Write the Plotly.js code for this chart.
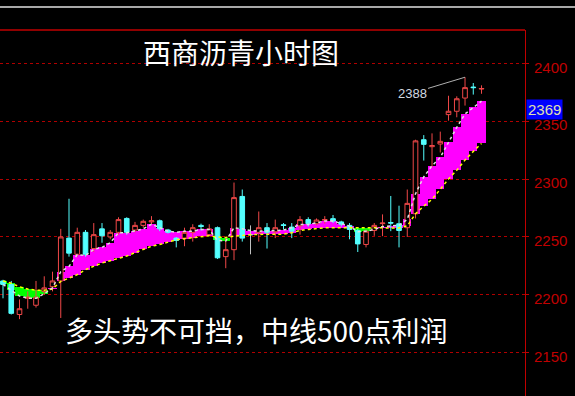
<!DOCTYPE html>
<html>
<head>
<meta charset="utf-8">
<script src="https://cdn.plot.ly/plotly-3.0.1.min.js"></script>
<style>html,body{margin:0;padding:0;background:#000;}#chart{width:575px;height:396px;}</style>
</head>
<body>
<div id="chart"></div>
<script>
// Hourly candles (index 0..58)
const openP  = [2212,2209,2183,2197,2191,2203,2207,2212,2249,2235,2254,2240,2257,2250,2254,2266,2256,2260,2263,2264,2256,2249,2249,2254,2260,2252,2258,2233,2239,2285,2252,2254,2258,2254.5,2260.5,2258.5,2259.6,2265,2261.4,2264.5,2265.8,2263,2260,2255.6,2243.5,2255.6,2261.5,2262.5,2261.4,2258,2270,2334,2328,2330.3,2355.7,2358.6,2370,2379.5,2377.8];
const highP  = [2213,2212,2196,2203,2212,2216,2220,2257,2283,2258,2256,2262,2262,2256,2267,2267,2263,2265,2268,2265,2257,2250,2258,2261,2261.5,2261,2259,2249,2297,2291,2260,2272,2262,2265,2262,2262,2268,2267,2266,2268,2269,2264,2262,2257,2256.5,2262,2269.5,2285.4,2277,2291,2334,2338,2339.5,2341,2372,2371.5,2388,2383,2381];
const lowP   = [2197,2183,2179,2188,2189,2200,2203,2180,2233,2233,2233,2237,2245,2248,2252,2252,2254,2258,2261,2255,2253,2241,2242,2246,2255.5,2251,2231,2223,2230,2246,2235,2246,2240,2249,2256.5,2249,2252,2259,2260,2261.4,2262,2259,2248,2237,2241,2251,2250.7,2255,2241,2250,2266,2316,2310,2323,2350.5,2353.4,2363.5,2373,2373.7];
const closeP = [2209,2184,2188,2198,2198,2206,2212,2250,2236,2254,2235,2252,2251,2254,2265,2254,2260,2263.5,2264,2257,2254,2247,2254,2258,2259,2257,2232,2239,2284,2249,2252,2258,2254,2258,2260,2255,2265,2261.4,2264.6,2265,2263.7,2261,2256.5,2244,2255,2260,2262,2262,2255.6,2279,2333,2330,2329,2332.6,2358.6,2369.4,2379,2379,2378.2];
// Fast (white) and slow (yellow) averages
const fastMA = [2209,2204,2199,2197,2197,2201,2206,2220,2224.6,2234.8,2234,2239.2,2241,2245,2253.6,2253.6,2255.5,2257,2261,2258,2255,2254,2255,2255,2256.5,2256.5,2247,2246.5,2258,2257,2255.5,2255,2255,2255.5,2256,2258,2260.8,2260.8,2262.2,2263.7,2263.7,2261.4,2259.4,2254.5,2255,2256.5,2259,2259.5,2260,2265.2,2287.4,2301.9,2311.5,2318.7,2331.7,2344.7,2356.3,2362,2367.3];
const slowMA = [2212,2210,2207,2205,2204,2204,2205,2211.6,2214.5,2217.4,2221.8,2224.7,2227.5,2229.5,2231.5,2233.5,2236.5,2239.5,2242,2243.5,2245.5,2247.5,2248.5,2249.2,2250.5,2251,2250,2249.5,2250.7,2251.5,2252,2252.2,2252.2,2252.2,2252.4,2253.6,2255.6,2256.5,2257.4,2257.9,2258,2258,2257.6,2257.5,2257.4,2257.4,2257.5,2257.6,2257.8,2259.6,2270,2276.7,2282.5,2291.2,2300,2307.7,2316.4,2323.9,2330.8];
const dojiIdx = [30];
const yTicks = [2150,2200,2250,2300,2350,2400];
const highLabel = 2388, highLabelIdx = 56;
const lastLabel = 2369;
const titleText = "西商沥青小时图";
const noteText = "多头势不可挡，中线500点利润";

const idx = openP.map((_, i) => i);
const normIdx = idx.filter(i => !dojiIdx.includes(i));
const pick = (arr, list) => list.map(i => arr[i]);

const bandBase = idx.map(i => Math.min(fastMA[i], slowMA[i]));
const bandH = idx.map(i => Math.abs(fastMA[i] - slowMA[i]));
const bandCol = idx.map(i => fastMA[i] >= slowMA[i] ? "#ff00ff" : "#00ff00");

const traces = [
  {type: "bar", x: idx, y: bandH, base: bandBase, width: 1,
   marker: {color: bandCol, line: {width: 0}}, hoverinfo: "skip"},
  {type: "scatter", mode: "lines", x: idx, y: slowMA,
   line: {color: "#ffff00", width: 1.5, dash: "dot"}, hoverinfo: "skip"},
  {type: "scatter", mode: "lines", x: idx, y: fastMA,
   line: {color: "#e0e0e0", width: 1.5, dash: "dot"}, hoverinfo: "skip"},
  {type: "candlestick", x: normIdx,
   open: pick(openP, normIdx), high: pick(highP, normIdx), low: pick(lowP, normIdx), close: pick(closeP, normIdx),
   whiskerwidth: 0,
   increasing: {line: {color: "#f04848", width: 1}, fillcolor: "#000000"},
   decreasing: {line: {color: "#54ffff", width: 1}, fillcolor: "#54ffff"}},
  {type: "candlestick", x: dojiIdx,
   open: pick(openP, dojiIdx), high: pick(highP, dojiIdx), low: pick(lowP, dojiIdx), close: pick(closeP, dojiIdx),
   whiskerwidth: 0,
   increasing: {line: {color: "#c0c0c0", width: 1}, fillcolor: "#c0c0c0"},
   decreasing: {line: {color: "#c0c0c0", width: 1}, fillcolor: "#c0c0c0"}}
];

const layout = {
  width: 575, height: 396,
  paper_bgcolor: "#000000", plot_bgcolor: "#000000",
  margin: {l: 0, r: 50, t: 30, b: 0},
  showlegend: false,
  bargap: 0, boxgap: 0.2,
  xaxis: {range: [-0.364, 63.27], visible: false, rangeslider: {visible: false}, fixedrange: true},
  yaxis: {side: "right", range: [2112.6, 2428.8], tickvals: yTicks,
          showgrid: true, gridcolor: "#b00000", griddash: "dot", gridwidth: 1,
          zeroline: false, showline: true, linecolor: "#c00000", linewidth: 1,
          ticks: "outside", ticklen: 3, tickcolor: "#c00000",
          tickfont: {family: "Liberation Sans, Arial", size: 15, color: "#c00000"},
          ticklabelshift: 4, ticklabelstandoff: 2},
  shapes: [
    {type: "line", xref: "paper", yref: "paper", x0: 0, x1: 1, y0: 1, y1: 1, line: {color: "#c00000", width: 1.5}},
    {type: "line", xref: "paper", yref: "paper", x0: 0, x1: 1.0952, y0: 1.0628, y1: 1.0628, line: {color: "#a8a8a8", width: 2}}
  ],
  annotations: [
    {xref: "paper", yref: "paper", x: 0.459, y: 0.94, xanchor: "center", yanchor: "middle", text: titleText, showarrow: false,
     font: {family: "Noto Sans CJK SC", size: 28, color: "#ffffff"}},
    {xref: "paper", yref: "paper", x: 0.488, y: 0.18, xanchor: "center", yanchor: "middle", text: noteText, showarrow: false,
     font: {family: "Noto Sans CJK SC", size: 28, color: "#ffffff"}},
    {xref: "x", yref: "y", x: highLabelIdx, y: highLabel, text: String(highLabel),
     showarrow: true, arrowhead: 0, arrowwidth: 1, arrowcolor: "#b0b0b0", ax: -53, ay: 16, standoff: 0,
     font: {family: "Liberation Sans, Arial", size: 13, color: "#d0d8e0"}},
    {xref: "paper", yref: "y", x: 1.002, y: lastLabel, xanchor: "left", yanchor: "top",
     text: String(lastLabel), showarrow: false, bgcolor: "#0000ff", borderpad: 1,
     font: {family: "Liberation Sans, Arial", size: 15, color: "#e0e0b0"}}
  ]
};

Plotly.newPlot("chart", traces, layout, {staticPlot: true, displayModeBar: false});
</script>
</body>
</html>
